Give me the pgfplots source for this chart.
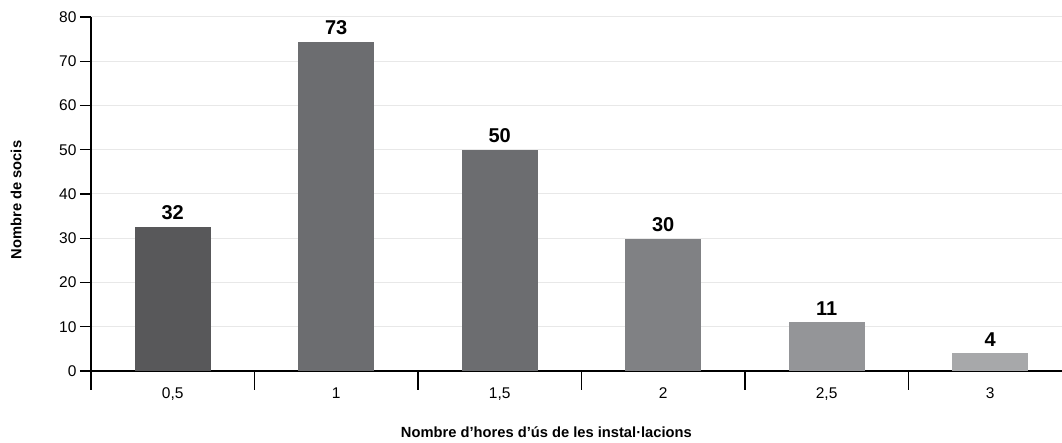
\documentclass[border=0pt]{standalone}
\usepackage{fontspec}
\setmainfont{Liberation Sans}
\usepackage{pgfplots}
\pgfplotsset{compat=1.18}
\definecolor{b1}{HTML}{58585A}
\definecolor{b2}{HTML}{6C6D70}
\definecolor{b3}{HTML}{6C6D70}
\definecolor{b4}{HTML}{808184}
\definecolor{b5}{HTML}{949598}
\definecolor{b6}{HTML}{A7A8AA}
\definecolor{gridc}{HTML}{E8E8E8}
\begin{document}
\begin{tikzpicture}
\begin{axis}[
  scale only axis,
  width=971pt, height=354pt,
  xmin=-0.5, xmax=5.44,
  ymin=0, ymax=80,
  axis x line=bottom, axis y line=left,
  axis line style={line width=1.3pt,-},
  ytick={0,10,...,80},
  ymajorgrids,
  major grid style={gridc, line width=1pt},
  tick align=outside,
  major tick length=11pt,
  y tick style={line width=1.3pt, black},
  xtick={0,1,2,3,4,5},
  xticklabels={{0,5},{1},{1,5},{2},{2,5},{3}},
  x tick style={draw=none},
  extra x ticks={-0.5,0.5,1.5,2.5,3.5,4.5},
  extra x tick labels={},
  extra x tick style={major tick length=19pt, x tick style={draw=black, line width=1.3pt}, grid=none},
  /pgf/number format/assume math mode=true,
  tick label style={font=\fontsize{15.5}{18}\selectfont},
  xticklabel style={yshift=-2pt},
  ybar, bar width=76pt, bar shift=0pt,
  point meta=explicit symbolic,
  nodes near coords,
  nodes near coords style={font=\fontsize{20}{24}\selectfont\bfseries, anchor=south, yshift=3.5pt},
  xlabel={Nombre d’hores d’ús de les instal·lacions},
  ylabel={Nombre de socis},
  xlabel style={font=\fontsize{14.7}{17}\selectfont\bfseries, at={(axis description cs:0.469,-0.172)}, anchor=center},
  ylabel style={font=\fontsize{14.7}{17}\selectfont\bfseries, at={(axis description cs:-0.0772,0.483)}, anchor=center, rotate=0},
  clip=false,
]
\addplot[fill=b1, draw=none] coordinates {(0,32.5) [32]};
\addplot[fill=b2, draw=none] coordinates {(1,74.3) [73]};
\addplot[fill=b3, draw=none] coordinates {(2,50) [50]};
\addplot[fill=b4, draw=none] coordinates {(3,29.8) [30]};
\addplot[fill=b5, draw=none] coordinates {(4,11) [11]};
\addplot[fill=b6, draw=none] coordinates {(5,4) [4]};
\end{axis}
\pgfresetboundingbox
\path[use as bounding box] ([xshift=-91pt,yshift=-72pt]current axis.south west) rectangle ([yshift=17pt]current axis.north east);
\end{tikzpicture}
\end{document}
